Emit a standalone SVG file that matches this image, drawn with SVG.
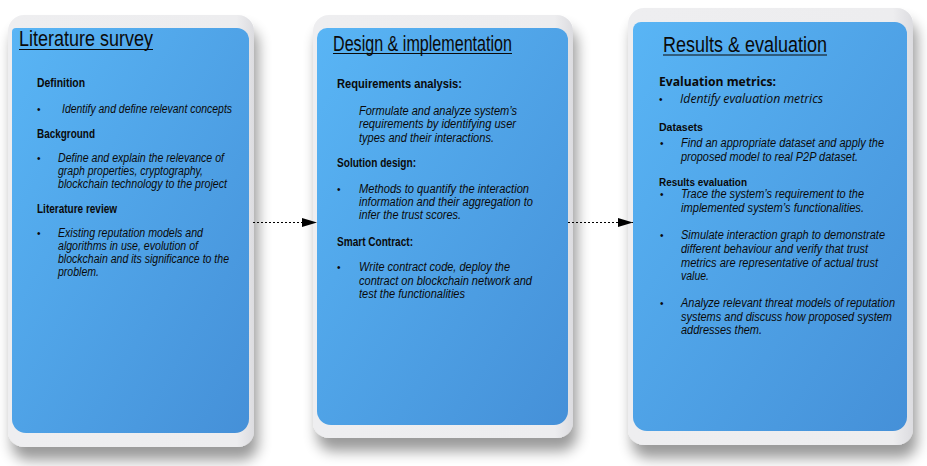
<svg xmlns="http://www.w3.org/2000/svg" width="927" height="466" viewBox="0 0 927 466">
<defs>
<linearGradient id="blue" x1="0" y1="0" x2="1" y2="1">
<stop offset="0" stop-color="#59B5F5"/>
<stop offset="1" stop-color="#4590D8"/>
</linearGradient>
<linearGradient id="card" x1="0" y1="0" x2="1" y2="0">
<stop offset="0" stop-color="#EEEEF0"/>
<stop offset="0.93" stop-color="#EDEDEF"/>
<stop offset="1" stop-color="#DCDCE0"/>
</linearGradient>
<filter id="shadow" x="-15%" y="-10%" width="135%" height="130%">
<feGaussianBlur in="SourceAlpha" stdDeviation="7"/>
<feOffset dx="4" dy="13" result="b"/>
<feComponentTransfer><feFuncA type="linear" slope="0.4"/></feComponentTransfer>
<feMerge><feMergeNode/><feMergeNode in="SourceGraphic"/></feMerge>
</filter>
<marker id="arrow" markerUnits="userSpaceOnUse" markerWidth="16" markerHeight="10" refX="15" refY="5" orient="auto">
<path d="M0,0.5 L15,5 L0,9.5 Z" fill="#000"/>
</marker>
</defs>
<style>
.card{fill:url(#card);filter:url(#shadow)}
.blue{fill:url(#blue)}
.title{font-family:"Liberation Sans",Arial,sans-serif;font-size:22px;fill:#0a0a0a}
.ul{stroke:#0a0a0a;stroke-width:1.2}
.h{font-family:"Liberation Sans",Arial,sans-serif;font-size:12.5px;font-weight:bold;fill:#0a0a0a}
.hs{font-family:"Liberation Sans",Arial,sans-serif;font-size:11.5px;font-weight:bold;fill:#0a0a0a}
.b{font-family:"Liberation Sans",Arial,sans-serif;font-size:12.5px;font-style:italic;fill:#0a0a0a}
.d{font-family:"Liberation Sans",Arial,sans-serif;font-size:10px;fill:#0a0a0a}
.oh{font-family:"Open Sans","Noto Sans",sans-serif;font-size:13px;font-weight:bold;fill:#0a0a0a}
.ob{font-family:"Open Sans","Noto Sans",sans-serif;font-size:12.5px;font-style:italic;fill:#0a0a0a}
.conn{fill:none;stroke:#000;stroke-width:1.2;stroke-dasharray:2 2;marker-end:url(#arrow)}
</style>

<g id="node-literature-survey">
<rect class="card" x="8" y="15" width="246" height="432" rx="16"/>
<path class="blue" d="M16,28 H237 A12,12 0 0 1 249,40 V419 A14,14 0 0 1 235,433 H26 A14,14 0 0 1 12,419 V32 A4,4 0 0 1 16,28 Z"/>
<text class="title" x="19" y="46" textLength="134" lengthAdjust="spacingAndGlyphs">Literature survey</text>
<line class="ul" x1="19" y1="49.5" x2="153" y2="49.5"/>
<text class="h" x="37" y="87" textLength="48" lengthAdjust="spacingAndGlyphs">Definition</text>
<text class="d" x="37" y="113">•</text>
<text class="b" x="62" y="113" textLength="170" lengthAdjust="spacingAndGlyphs">Identify and define relevant concepts</text>
<text class="h" x="37" y="138" textLength="58" lengthAdjust="spacingAndGlyphs">Background</text>
<text class="d" x="37" y="162">•</text>
<text class="b" x="58" y="162" textLength="166" lengthAdjust="spacingAndGlyphs">Define and explain the relevance of</text>
<text class="b" x="58" y="175" textLength="145" lengthAdjust="spacingAndGlyphs">graph properties, cryptography,</text>
<text class="b" x="58" y="188" textLength="169" lengthAdjust="spacingAndGlyphs">blockchain technology to the project</text>
<text class="h" x="37" y="213" textLength="80" lengthAdjust="spacingAndGlyphs">Literature review</text>
<text class="d" x="37" y="237">•</text>
<text class="b" x="58" y="237" textLength="145" lengthAdjust="spacingAndGlyphs">Existing reputation models and</text>
<text class="b" x="58" y="250" textLength="140" lengthAdjust="spacingAndGlyphs">algorithms in use, evolution of</text>
<text class="b" x="58" y="263" textLength="171" lengthAdjust="spacingAndGlyphs">blockchain and its significance to the</text>
<text class="b" x="58" y="276" textLength="41" lengthAdjust="spacingAndGlyphs">problem.</text>
</g>

<g id="node-design-implementation">
<rect class="card" x="313" y="15" width="260" height="423" rx="16"/>
<path class="blue" d="M327,28 H556 A12,12 0 0 1 568,40 V411 A14,14 0 0 1 554,425 H331 A14,14 0 0 1 317,411 V38 A10,10 0 0 1 327,28 Z"/>
<text class="title" x="333" y="51" textLength="179" lengthAdjust="spacingAndGlyphs">Design &amp; implementation</text>
<line class="ul" x1="333" y1="53.5" x2="512" y2="53.5"/>
<text class="h" x="337" y="88" textLength="125" lengthAdjust="spacingAndGlyphs">Requirements analysis:</text>
<text class="b" x="359" y="115" textLength="158" lengthAdjust="spacingAndGlyphs">Formulate and analyze system’s</text>
<text class="b" x="359" y="128" textLength="157" lengthAdjust="spacingAndGlyphs">requirements by identifying user</text>
<text class="b" x="359" y="142" textLength="135" lengthAdjust="spacingAndGlyphs">types and their interactions.</text>
<text class="h" x="337" y="167" textLength="79" lengthAdjust="spacingAndGlyphs">Solution design:</text>
<text class="d" x="337" y="193">•</text>
<text class="b" x="359" y="193" textLength="170" lengthAdjust="spacingAndGlyphs">Methods to quantify the interaction</text>
<text class="b" x="359" y="206" textLength="174" lengthAdjust="spacingAndGlyphs">information and their aggregation to</text>
<text class="b" x="359" y="219" textLength="102" lengthAdjust="spacingAndGlyphs">infer the trust scores.</text>
<text class="h" x="337" y="246" textLength="76" lengthAdjust="spacingAndGlyphs">Smart Contract:</text>
<text class="d" x="337" y="271">•</text>
<text class="b" x="359" y="271" textLength="151" lengthAdjust="spacingAndGlyphs">Write contract code, deploy the</text>
<text class="b" x="359" y="285" textLength="173" lengthAdjust="spacingAndGlyphs">contract on blockchain network and</text>
<text class="b" x="359" y="298" textLength="106" lengthAdjust="spacingAndGlyphs">test the functionalities</text>
</g>

<g id="node-results-evaluation">
<rect class="card" x="628" y="8" width="285" height="437" rx="16"/>
<path class="blue" d="M641,22 H895 A12,12 0 0 1 907,34 V417 A14,14 0 0 1 893,431 H647 A14,14 0 0 1 633,417 V30 A8,8 0 0 1 641,22 Z"/>
<text class="title" x="663" y="52" textLength="164" lengthAdjust="spacingAndGlyphs">Results &amp; evaluation</text>
<line class="ul" x1="663" y1="55" x2="827" y2="55"/>
<text class="oh" x="659" y="86" textLength="117" lengthAdjust="spacingAndGlyphs">Evaluation metrics:</text>
<text class="d" x="659" y="103" font-size="9">•</text>
<text class="ob" x="680" y="103" textLength="143" lengthAdjust="spacingAndGlyphs">Identify evaluation metrics</text>
<text class="hs" x="659" y="131" textLength="44" lengthAdjust="spacingAndGlyphs">Datasets</text>
<text class="d" x="660" y="147">•</text>
<text class="b" x="681" y="147" textLength="203" lengthAdjust="spacingAndGlyphs">Find an appropriate dataset and apply the</text>
<text class="b" x="681" y="161" textLength="177" lengthAdjust="spacingAndGlyphs">proposed model to real P2P dataset.</text>
<text class="hs" x="659" y="186" textLength="88" lengthAdjust="spacingAndGlyphs">Results evaluation</text>
<text class="d" x="660" y="198">•</text>
<text class="b" x="681" y="198" textLength="183" lengthAdjust="spacingAndGlyphs">Trace the system’s requirement to the</text>
<text class="b" x="681" y="212" textLength="183" lengthAdjust="spacingAndGlyphs">implemented system’s functionalities.</text>
<text class="d" x="660" y="239">•</text>
<text class="b" x="681" y="239" textLength="204" lengthAdjust="spacingAndGlyphs">Simulate interaction graph to demonstrate</text>
<text class="b" x="681" y="253" textLength="187" lengthAdjust="spacingAndGlyphs">different behaviour and verify that trust</text>
<text class="b" x="681" y="267" textLength="197" lengthAdjust="spacingAndGlyphs">metrics are representative of actual trust</text>
<text class="b" x="681" y="280" textLength="28" lengthAdjust="spacingAndGlyphs">value.</text>
<text class="d" x="660" y="307">•</text>
<text class="b" x="681" y="307" textLength="214" lengthAdjust="spacingAndGlyphs">Analyze relevant threat models of reputation</text>
<text class="b" x="681" y="321" textLength="211" lengthAdjust="spacingAndGlyphs">systems and discuss how proposed system</text>
<text class="b" x="681" y="334" textLength="81" lengthAdjust="spacingAndGlyphs">addresses them.</text>
</g>

<g id="connectors">
<line class="conn" x1="253" y1="222.5" x2="317" y2="222.5"/>
<line class="conn" x1="568" y1="222.5" x2="633" y2="222.5"/>
</g>
</svg>
